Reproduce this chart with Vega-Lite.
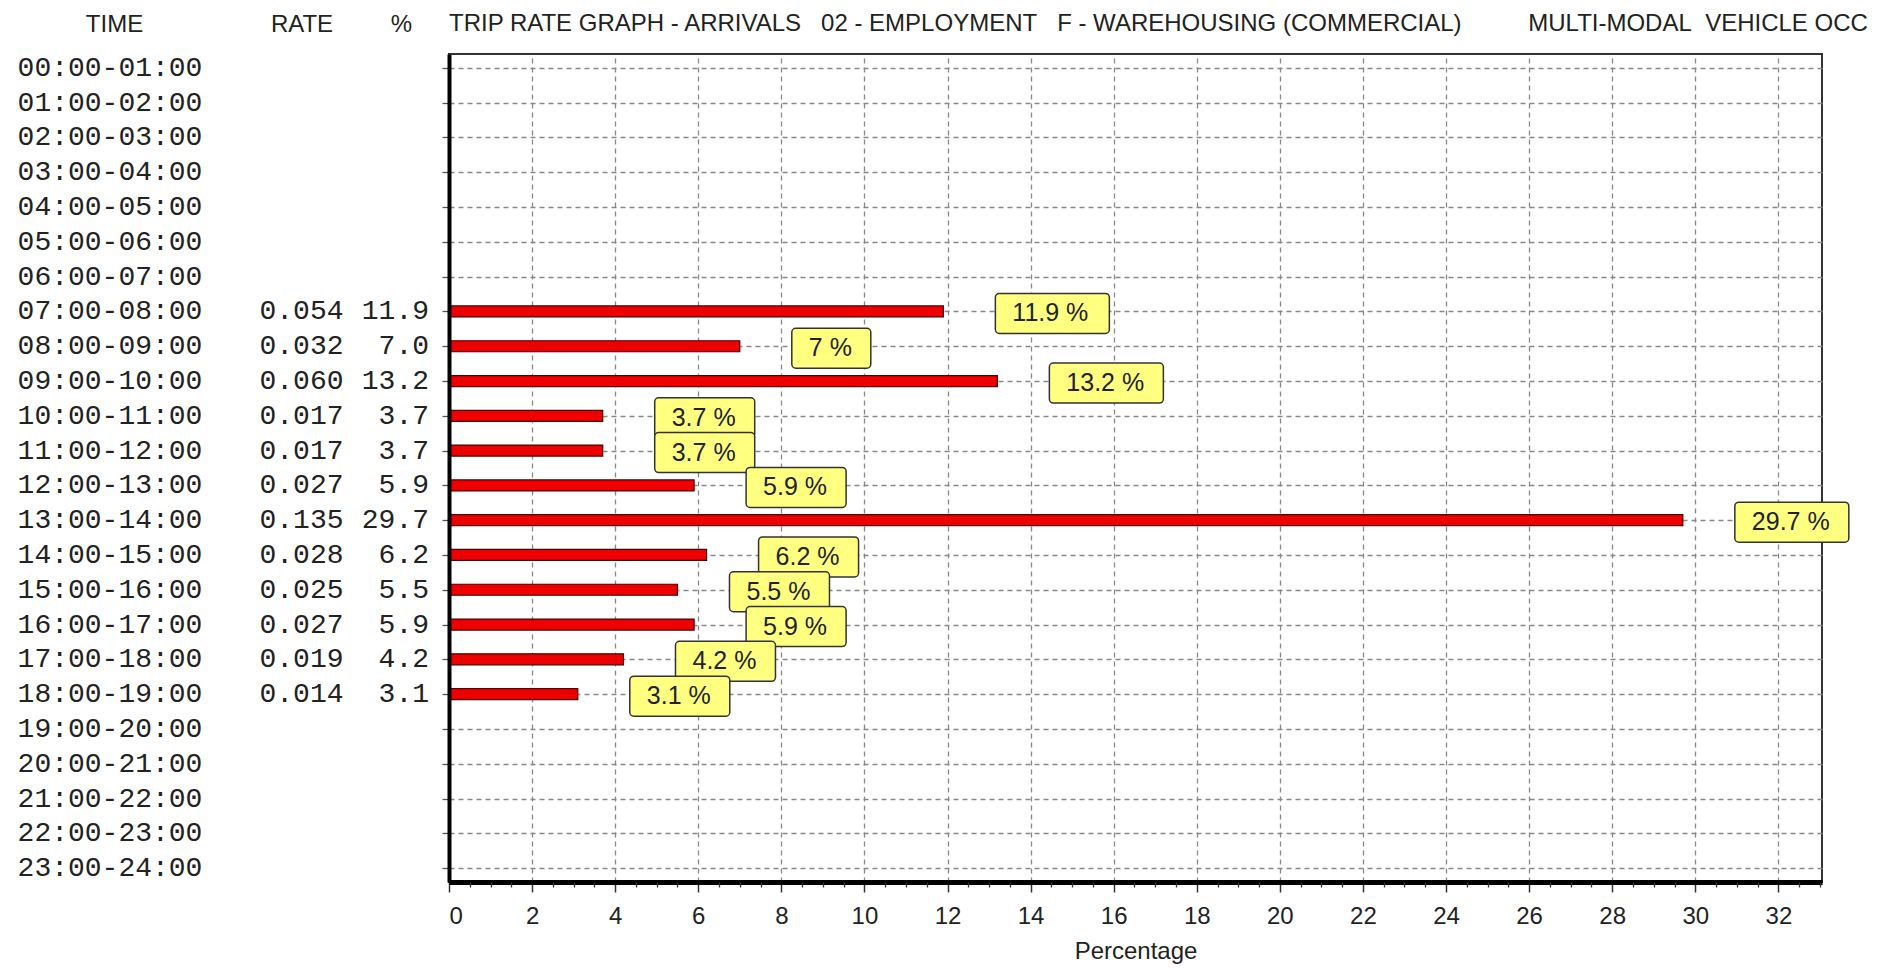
{
  "$schema": "https://vega.github.io/schema/vega-lite/v6.json",
  "background": "white",
  "padding": {"left": 0, "top": 11, "right": 0, "bottom": 0},
  "spacing": 0,
  "config": {"view": {"stroke": null}, "font": "Liberation Sans"},
  "data": {
    "values": [
      {"time": "00:00-01:00"},
      {"time": "01:00-02:00"},
      {"time": "02:00-03:00"},
      {"time": "03:00-04:00"},
      {"time": "04:00-05:00"},
      {"time": "05:00-06:00"},
      {"time": "06:00-07:00"},
      {"time": "07:00-08:00", "rate": 0.054, "pct": 11.9, "label": "11.9 %"},
      {"time": "08:00-09:00", "rate": 0.032, "pct": 7.0, "label": "7 %"},
      {"time": "09:00-10:00", "rate": 0.060, "pct": 13.2, "label": "13.2 %"},
      {"time": "10:00-11:00", "rate": 0.017, "pct": 3.7, "label": "3.7 %"},
      {"time": "11:00-12:00", "rate": 0.017, "pct": 3.7, "label": "3.7 %"},
      {"time": "12:00-13:00", "rate": 0.027, "pct": 5.9, "label": "5.9 %"},
      {"time": "13:00-14:00", "rate": 0.135, "pct": 29.7, "label": "29.7 %"},
      {"time": "14:00-15:00", "rate": 0.028, "pct": 6.2, "label": "6.2 %"},
      {"time": "15:00-16:00", "rate": 0.025, "pct": 5.5, "label": "5.5 %"},
      {"time": "16:00-17:00", "rate": 0.027, "pct": 5.9, "label": "5.9 %"},
      {"time": "17:00-18:00", "rate": 0.019, "pct": 4.2, "label": "4.2 %"},
      {"time": "18:00-19:00", "rate": 0.014, "pct": 3.1, "label": "3.1 %"},
      {"time": "19:00-20:00"},
      {"time": "20:00-21:00"},
      {"time": "21:00-22:00"},
      {"time": "22:00-23:00"},
      {"time": "23:00-24:00"}
    ]
  },
  "hconcat": [
    {
      "width": 440,
      "height": 828,
      "view": {"stroke": null},
      "layer": [
        {
          "mark": {"type": "text", "font": "Liberation Mono", "fontSize": 28, "color": "#222", "align": "center", "baseline": "middle", "dx": -4},
          "encoding": {
            "x": {
              "datum": "TIME",
              "type": "nominal",
              "scale": {"type": "point", "domain": ["TIME", "RATE", "%"], "range": [114, 401], "padding": 0},
              "axis": {
                "orient": "top", "domain": false, "ticks": false, "tickSize": 0, "grid": false,
                "labelAngle": 0, "labelFont": "Liberation Sans", "labelFontSize": 24, "labelColor": "#222",
                "labelPadding": 18, "title": null,
                "labelOffset": {"condition": {"test": "datum.value === 'RATE'", "value": 44}, "value": 0}
              }
            },
            "y": {
              "field": "time", "type": "ordinal",
              "scale": {"type": "point", "padding": 0.4, "domain": ["00:00-01:00","01:00-02:00","02:00-03:00","03:00-04:00","04:00-05:00","05:00-06:00","06:00-07:00","07:00-08:00","08:00-09:00","09:00-10:00","10:00-11:00","11:00-12:00","12:00-13:00","13:00-14:00","14:00-15:00","15:00-16:00","16:00-17:00","17:00-18:00","18:00-19:00","19:00-20:00","20:00-21:00","21:00-22:00","22:00-23:00","23:00-24:00"]},
              "axis": null
            },
            "text": {"field": "time"}
          }
        },
        {
          "transform": [{"filter": "isValid(datum.pct)"}],
          "mark": {"type": "text", "font": "Liberation Mono", "fontSize": 28, "color": "#222", "align": "center", "baseline": "middle", "dx": 44},
          "encoding": {
            "x": {"datum": "RATE", "type": "nominal"},
            "y": {"field": "time", "type": "ordinal"},
            "text": {"field": "rate", "type": "quantitative", "format": ".3f"}
          }
        },
        {
          "transform": [{"filter": "isValid(datum.pct)"}],
          "mark": {"type": "text", "font": "Liberation Mono", "fontSize": 28, "color": "#222", "align": "right", "baseline": "middle", "dx": 28},
          "encoding": {
            "x": {"datum": "%", "type": "nominal"},
            "y": {"field": "time", "type": "ordinal"},
            "text": {"field": "pct", "type": "quantitative", "format": ".1f"}
          }
        }
      ]
    },
    {
      "width": 1373,
      "height": 828,
      "view": {"stroke": "#333", "strokeWidth": 2},
      "title": {
        "text": "TRIP RATE GRAPH - ARRIVALS\u00a0\u00a0 02 - EMPLOYMENT\u00a0\u00a0 F - WAREHOUSING (COMMERCIAL)\u00a0\u00a0\u00a0\u00a0\u00a0\u00a0\u00a0\u00a0\u00a0 MULTI-MODAL\u00a0 VEHICLE OCC",
        "anchor": "start", "frame": "group", "font": "Liberation Sans", "fontSize": 24,
        "fontWeight": "normal", "color": "#222", "offset": 18
      },
      "resolve": {"axis": {"x": "independent", "y": "independent"}},
      "layer": [
        {
          "mark": {"type": "point", "opacity": 0},
          "encoding": {
            "x": {
              "field": "pct", "type": "quantitative",
              "scale": {"domain": [0, 33.05], "nice": false, "zero": true},
              "axis": {
                "orient": "bottom",
                "values": [2, 4, 6, 8, 10, 12, 14, 16, 18, 20, 22, 24, 26, 28, 30, 32],
                "grid": true, "gridColor": "#888", "gridDash": [5, 4], "gridWidth": 1.3,
                "domain": false, "ticks": false, "labels": false, "title": null, "zindex": 0
              }
            },
            "y": {
              "field": "time", "type": "ordinal",
              "scale": {"type": "point", "padding": 0.4, "domain": ["00:00-01:00","01:00-02:00","02:00-03:00","03:00-04:00","04:00-05:00","05:00-06:00","06:00-07:00","07:00-08:00","08:00-09:00","09:00-10:00","10:00-11:00","11:00-12:00","12:00-13:00","13:00-14:00","14:00-15:00","15:00-16:00","16:00-17:00","17:00-18:00","18:00-19:00","19:00-20:00","20:00-21:00","21:00-22:00","22:00-23:00","23:00-24:00"]},
              "axis": {
                "orient": "left", "labels": false, "title": null, "domain": false, "ticks": false,
                "grid": true, "gridColor": "#888", "gridDash": [5, 4], "gridWidth": 1.3, "zindex": 0
              }
            }
          }
        },
        {
          "transform": [{"filter": "isValid(datum.pct)"}],
          "mark": {"type": "bar", "height": 11, "color": "#EE0000", "stroke": "#4a0000", "strokeWidth": 1.2},
          "encoding": {
            "x": {
              "field": "pct", "type": "quantitative",
              "axis": {
                "orient": "bottom",
                "values": [0, 2, 4, 6, 8, 10, 12, 14, 16, 18, 20, 22, 24, 26, 28, 30, 32],
                "grid": false,
                "domainColor": "#000", "domainWidth": 5,
                "tickColor": "#333", "tickSize": 10, "tickWidth": 1.5,
                "labelFont": "Liberation Sans", "labelFontSize": 24, "labelColor": "#222", "labelPadding": 12,
                "title": "Percentage", "titleFont": "Liberation Sans", "titleFontSize": 24,
                "titleFontWeight": "normal", "titleColor": "#222", "titlePadding": 11,
                "zindex": 1
              }
            },
            "y": {
              "field": "time", "type": "ordinal",
              "axis": {
                "orient": "left", "labels": false, "title": null,
                "domainColor": "#000", "domainWidth": 4,
                "tickColor": "#555", "tickSize": 7, "tickWidth": 1.3,
                "grid": false, "zindex": 1
              }
            }
          }
        },
        {
          "mark": {"type": "point", "opacity": 0},
          "encoding": {
            "x": {
              "field": "pct", "type": "quantitative",
              "axis": {
                "orient": "bottom",
                "values": [0.5, 1, 1.5, 2.5, 3, 3.5, 4.5, 5, 5.5, 6.5, 7, 7.5, 8.5, 9, 9.5, 10.5, 11, 11.5, 12.5, 13, 13.5, 14.5, 15, 15.5, 16.5, 17, 17.5, 18.5, 19, 19.5, 20.5, 21, 21.5, 22.5, 23, 23.5, 24.5, 25, 25.5, 26.5, 27, 27.5, 28.5, 29, 29.5, 30.5, 31, 31.5, 32.5, 33],
                "labels": false, "domain": false, "grid": false,
                "tickSize": 5, "tickColor": "#333", "tickWidth": 1.3, "title": null, "zindex": 1
              }
            },
            "y": {"field": "time", "type": "ordinal", "axis": null}
          }
        },
        {
          "transform": [{"filter": "isValid(datum.pct) && length(datum.label) == 6"}],
          "mark": {"type": "bar", "height": 40, "yOffset": 2, "xOffset": 52, "x2Offset": 166, "color": "#FFFF80", "stroke": "#333", "strokeWidth": 1.5, "cornerRadius": 4},
          "encoding": {
            "x": {"field": "pct", "type": "quantitative", "axis": null},
            "x2": {"field": "pct"},
            "y": {"field": "time", "type": "ordinal", "axis": null}
          }
        },
        {
          "transform": [{"filter": "isValid(datum.pct) && length(datum.label) == 5"}],
          "mark": {"type": "bar", "height": 40, "yOffset": 2, "xOffset": 52, "x2Offset": 152, "color": "#FFFF80", "stroke": "#333", "strokeWidth": 1.5, "cornerRadius": 4},
          "encoding": {
            "x": {"field": "pct", "type": "quantitative", "axis": null},
            "x2": {"field": "pct"},
            "y": {"field": "time", "type": "ordinal", "axis": null}
          }
        },
        {
          "transform": [{"filter": "isValid(datum.pct) && length(datum.label) == 3"}],
          "mark": {"type": "bar", "height": 40, "yOffset": 2, "xOffset": 52, "x2Offset": 131, "color": "#FFFF80", "stroke": "#333", "strokeWidth": 1.5, "cornerRadius": 4},
          "encoding": {
            "x": {"field": "pct", "type": "quantitative", "axis": null},
            "x2": {"field": "pct"},
            "y": {"field": "time", "type": "ordinal", "axis": null}
          }
        },
        {
          "transform": [{"filter": "isValid(datum.pct)"}],
          "mark": {"type": "text", "align": "left", "baseline": "middle", "dx": 69, "dy": 2, "font": "Liberation Sans", "fontSize": 25, "color": "#222"},
          "encoding": {
            "x": {"field": "pct", "type": "quantitative", "axis": null},
            "y": {"field": "time", "type": "ordinal", "axis": null},
            "text": {"field": "label"}
          }
        }
      ]
    }
  ]
}
